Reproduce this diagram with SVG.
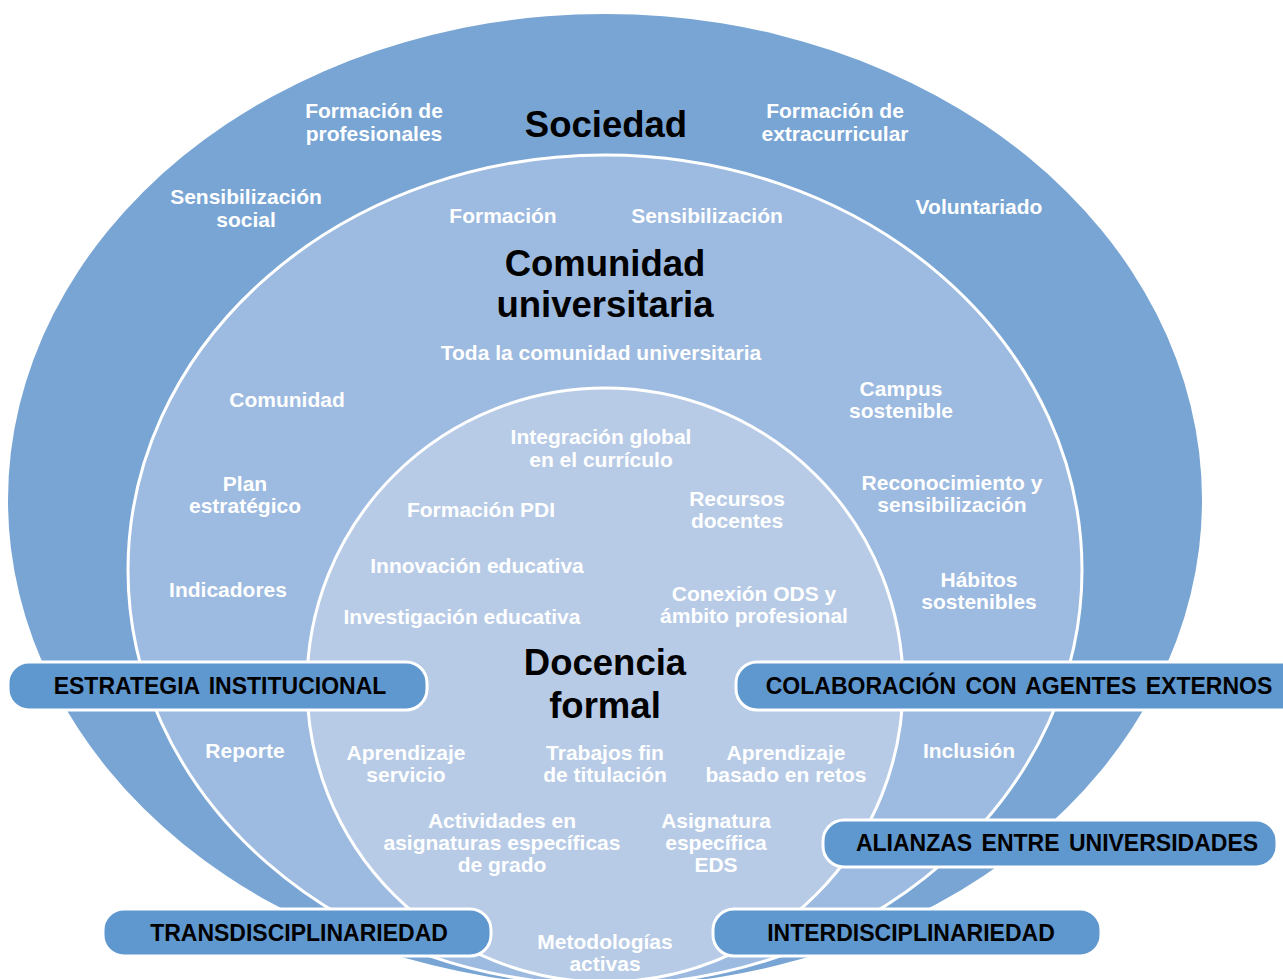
<svg xmlns="http://www.w3.org/2000/svg" width="1283" height="979" viewBox="0 0 1283 979">
<style>
.lbl{font-family:"Liberation Sans",Arial,sans-serif;font-weight:bold;font-size:21px;fill:#ffffff;text-anchor:middle}
.ttl{font-family:"Liberation Sans",Arial,sans-serif;font-weight:bold;font-size:36.5px;fill:#000000;text-anchor:middle}
.box{fill:#5F97CF;stroke:#ffffff;stroke-width:3}
.btx{font-family:"Liberation Sans",Arial,sans-serif;font-weight:bold;font-size:23px;fill:#000000;text-anchor:middle;word-spacing:3px}
.ring{stroke:#ffffff;stroke-width:3}
</style>
<rect width="1283" height="979" fill="#ffffff"/>
<g id="sociedad">
<ellipse cx="605" cy="500" rx="597" ry="486" fill="#78A5D4"/>
<text class="ttl" x="606" y="137">Sociedad</text>
<text class="lbl" x="374" y="118">Formación de</text>
<text class="lbl" x="374" y="141">profesionales</text>
<text class="lbl" x="835" y="118">Formación de</text>
<text class="lbl" x="835" y="141">extracurricular</text>
<text class="lbl" x="246" y="204">Sensibilización</text>
<text class="lbl" x="246" y="227">social</text>
<text class="lbl" x="979" y="214">Voluntariado</text>
</g>
<g id="comunidad">
<ellipse class="ring" cx="605" cy="570" rx="477" ry="415" fill="#9DBAE0"/>
<text class="ttl" x="605" y="276">Comunidad</text>
<text class="ttl" x="605" y="317">universitaria</text>
<text class="lbl" x="503" y="223">Formación</text>
<text class="lbl" x="707" y="223">Sensibilización</text>
<text class="lbl" x="601" y="360">Toda la comunidad universitaria</text>
<text class="lbl" x="287" y="407">Comunidad</text>
<text class="lbl" x="245" y="491">Plan</text>
<text class="lbl" x="245" y="513">estratégico</text>
<text class="lbl" x="228" y="597">Indicadores</text>
<text class="lbl" x="245" y="758">Reporte</text>
<text class="lbl" x="901" y="396">Campus</text>
<text class="lbl" x="901" y="418">sostenible</text>
<text class="lbl" x="952" y="490">Reconocimiento y</text>
<text class="lbl" x="952" y="512">sensibilización</text>
<text class="lbl" x="979" y="587">Hábitos</text>
<text class="lbl" x="979" y="609">sostenibles</text>
<text class="lbl" x="969" y="758">Inclusión</text>
</g>
<g id="docencia">
<ellipse class="ring" cx="605" cy="685" rx="298" ry="297" fill="#B7CBE6"/>
<text class="ttl" x="605" y="675">Docencia</text>
<text class="ttl" x="605" y="718">formal</text>
<text class="lbl" x="601" y="444">Integración global</text>
<text class="lbl" x="601" y="467">en el currículo</text>
<text class="lbl" x="481" y="517">Formación PDI</text>
<text class="lbl" x="737" y="506">Recursos</text>
<text class="lbl" x="737" y="528">docentes</text>
<text class="lbl" x="477" y="573">Innovación educativa</text>
<text class="lbl" x="754" y="601">Conexión ODS y</text>
<text class="lbl" x="754" y="623">ámbito profesional</text>
<text class="lbl" x="462" y="624">Investigación educativa</text>
<text class="lbl" x="406" y="760">Aprendizaje</text>
<text class="lbl" x="406" y="782">servicio</text>
<text class="lbl" x="605" y="760">Trabajos fin</text>
<text class="lbl" x="605" y="782">de titulación</text>
<text class="lbl" x="786" y="760">Aprendizaje</text>
<text class="lbl" x="786" y="782">basado en retos</text>
<text class="lbl" x="502" y="828">Actividades en</text>
<text class="lbl" x="502" y="850">asignaturas específicas</text>
<text class="lbl" x="502" y="872">de grado</text>
<text class="lbl" x="716" y="828">Asignatura</text>
<text class="lbl" x="716" y="850">específica</text>
<text class="lbl" x="716" y="872">EDS</text>
<text class="lbl" x="605" y="949">Metodologías</text>
<text class="lbl" x="605" y="971">activas</text>
</g>
<g id="estrategia">
<rect class="box" x="8" y="662" width="419" height="48" rx="21"/>
<text class="btx" x="220" y="694">ESTRATEGIA INSTITUCIONAL</text>
</g>
<g id="colaboracion">
<rect class="box" x="736" y="662" width="570" height="48" rx="21"/>
<text class="btx" x="1019" y="694">COLABORACIÓN CON AGENTES EXTERNOS</text>
</g>
<g id="alianzas">
<rect class="box" x="823" y="820" width="454" height="47" rx="21"/>
<text class="btx" x="1057" y="851">ALIANZAS ENTRE UNIVERSIDADES</text>
</g>
<g id="transdisciplinariedad">
<rect class="box" x="103" y="909" width="388" height="47" rx="21"/>
<text class="btx" x="299" y="941">TRANSDISCIPLINARIEDAD</text>
</g>
<g id="interdisciplinariedad">
<rect class="box" x="713" y="909" width="388" height="47" rx="21"/>
<text class="btx" x="911" y="941">INTERDISCIPLINARIEDAD</text>
</g>
</svg>
